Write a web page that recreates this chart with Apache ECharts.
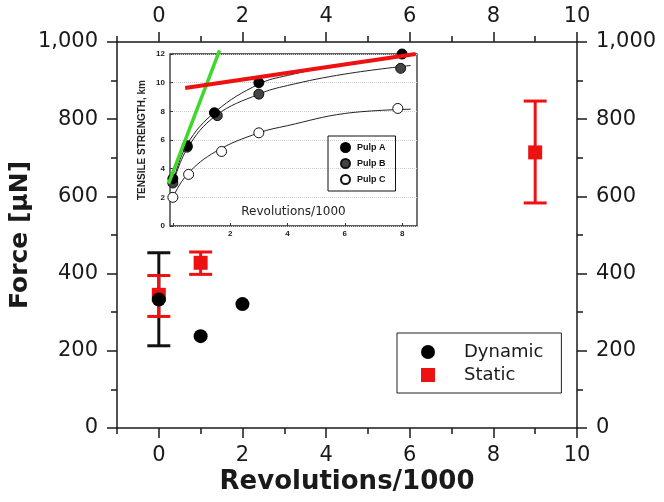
<!DOCTYPE html>
<html>
<head>
<meta charset="utf-8">
<script src="https://cdn.jsdelivr.net/npm/echarts@6.0.0/dist/echarts.min.js"></script>
<style>
  html, body { margin: 0; padding: 0; background: #fff; }
  #main { width: 664px; height: 502px; }
</style>
</head>
<body>
<div id="main"></div>
<script>
// main chart: force vs revolutions
const xTicks = [0, 2, 4, 6, 8, 10]
const xMinorTicks = [-1, 1, 3, 5, 7, 9]

const dynamicX = [0, 1, 2]
const dynamicY = [333, 238, 321]
const dynamicErrX = [0]
const dynamicErrLow = [213]
const dynamicErrHigh = [454]

const staticX = [0, 1, 9]
const staticY = [345, 428, 714]
const staticErrLow = [289, 398, 583]
const staticErrHigh = [395, 456, 847]

// inset: tensile strength vs revolutions
const insetXTicks = [0, 2, 4, 6, 8]
const insetXLabels = [2, 4, 6, 8]
const pulpAX = [0, 0.5, 1.45, 3, 8]
const pulpA = [3.3, 5.6, 7.9, 10.0, 12.0]
const pulpBX = [0, 0.5, 1.55, 3, 7.95]
const pulpB = [3.0, 5.5, 7.7, 9.2, 11.0]
const pulpCX = [0, 0.55, 1.7, 3, 7.85]
const pulpC = [2.0, 3.6, 5.2, 6.5, 8.2]

const fitX = [0, 0.5, 1.5, 3, 4, 6, 8.3]
const fitA = [3.0, 5.7, 8.0, 9.9, 10.5, 11.3, 11.9]
const fitB = [2.9, 5.4, 7.7, 9.2, 9.8, 10.6, 11.2]
const fitC = [2.0, 3.6, 5.2, 6.5, 7.0, 7.85, 8.15]

const greenLineX = [-0.15, 1.63]
const greenLineY = [2.95, 12.25]
const redLineX = [0.43, 8.47]
const redLineY = [9.63, 12.0]

const zip = (xs, ys) => xs.map((x, i) => [x, ys[i]])
const ink = '#1a1a1a'
const red = '#ee1111'
const font = 'DejaVu Sans'

const errorBar = (color) => (params, api) => {
    const x = api.value(0)
    const top = api.coord([x, api.value(2)])
    const bot = api.coord([x, api.value(1)])
    const hw = 11.5
    const style = {stroke: color, lineWidth: 3}
    return {
        type: 'group',
        children: [
            {type: 'line', shape: {x1: top[0], y1: top[1], x2: bot[0], y2: bot[1]}, style},
            {type: 'line', shape: {x1: top[0] - hw, y1: top[1], x2: top[0] + hw, y2: top[1]}, style},
            {type: 'line', shape: {x1: bot[0] - hw, y1: bot[1], x2: bot[0] + hw, y2: bot[1]}, style}
        ]
    }
}

const fmtThousands = v => String(v).replace(/\B(?=(\d{3})+(?!\d))/g, ',')

const axisLine = {show: true, onZero: false, lineStyle: {color: ink, width: 1.5}}
const tickLabel = {fontFamily: font, fontSize: 21, color: ink, margin: 17}

const myChart = echarts.init(document.getElementById('main'))

const option = {
    backgroundColor: '#fff',
    animation: false,
    grid: [
        {left: 117, right: 87, top: 42, bottom: 74, containLabel: false, outerBoundsMode: 'none'},
        {left: 170, top: 54, width: 247, height: 172, containLabel: false, outerBoundsMode: 'none',
            show: true, borderColor: '#2a2a2a', borderWidth: 1.3, backgroundColor: '#fff'}
    ],
    xAxis: [
        {
            gridIndex: 0, type: 'value', position: 'bottom', min: -1, max: 10,
            name: 'Revolutions/1000', nameLocation: 'middle', nameGap: 41, nameMoveOverlap: false,
            nameTextStyle: {fontFamily: font, fontSize: 26, fontWeight: 'bold', color: ink},
            axisLine: axisLine,
            axisTick: {show: true, length: 10, lineStyle: {color: ink, width: 1.5}, customValues: xTicks},
            axisLabel: Object.assign({}, tickLabel, {customValues: xTicks}),
            splitLine: {show: false}
        },
        {
            gridIndex: 0, type: 'value', position: 'bottom', min: -1, max: 10,
            axisLine: {show: false, onZero: false},
            axisTick: {show: true, length: 6, lineStyle: {color: ink, width: 1.5}, customValues: xMinorTicks},
            axisLabel: {show: false},
            splitLine: {show: false}
        },
        {
            gridIndex: 0, type: 'value', position: 'top', min: -1, max: 10,
            axisLine: axisLine,
            axisTick: {show: true, length: 10, lineStyle: {color: ink, width: 1.5}, customValues: xTicks},
            axisLabel: Object.assign({}, tickLabel, {customValues: xTicks, margin: 15}),
            splitLine: {show: false}
        },
        {
            gridIndex: 0, type: 'value', position: 'top', min: -1, max: 10,
            axisLine: {show: false, onZero: false},
            axisTick: {show: true, length: 6, lineStyle: {color: ink, width: 1.5}, customValues: xMinorTicks},
            axisLabel: {show: false},
            splitLine: {show: false}
        },
        {
            gridIndex: 1, type: 'value', min: -0.1, max: 8.52,
            name: 'Revolutions/1000', nameLocation: 'middle', nameGap: -20, nameMoveOverlap: false,
            nameTextStyle: {fontFamily: font, fontSize: 12, color: '#222'},
            axisLine: {show: false, onZero: false},
            axisTick: {show: true, inside: true, length: 3, lineStyle: {color: '#333'}, customValues: insetXTicks},
            axisLabel: {customValues: insetXLabels, fontFamily: 'Liberation Sans', fontWeight: 'bold', fontSize: 8, color: '#222', margin: 4},
            splitLine: {show: false}
        }
    ],
    yAxis: [
        {
            gridIndex: 0, type: 'value', position: 'left', min: 0, max: 1000, interval: 200,
            name: 'Force [µN]', nameLocation: 'middle', nameGap: 84, nameMoveOverlap: false,
            nameTextStyle: {fontFamily: font, fontSize: 25, fontWeight: 'bold', color: ink},
            axisLine: axisLine,
            axisTick: {show: true, length: 10, lineStyle: {color: ink, width: 1.5}},
            minorTick: {show: true, splitNumber: 2, length: 6, lineStyle: {color: ink, width: 1.5}},
            axisLabel: Object.assign({}, tickLabel, {formatter: fmtThousands, margin: 19}),
            splitLine: {show: false}
        },
        {
            gridIndex: 0, type: 'value', position: 'right', min: 0, max: 1000, interval: 200,
            axisLine: axisLine,
            axisTick: {show: true, length: 10, lineStyle: {color: ink, width: 1.5}},
            minorTick: {show: true, splitNumber: 2, length: 6, lineStyle: {color: ink, width: 1.5}},
            axisLabel: Object.assign({}, tickLabel, {formatter: fmtThousands, margin: 19}),
            splitLine: {show: false}
        },
        {
            gridIndex: 1, type: 'value', min: 0, max: 12, interval: 2,
            name: 'TENSILE STRENGTH, km', nameLocation: 'middle', nameGap: 23, nameMoveOverlap: false,
            nameTextStyle: {fontFamily: 'Liberation Sans', fontSize: 10, fontWeight: 'bold', color: '#222'},
            axisLine: {show: false, onZero: false},
            axisTick: {show: true, inside: true, length: 3, lineStyle: {color: '#333'}},
            axisLabel: {fontFamily: 'Liberation Sans', fontWeight: 'bold', fontSize: 8, color: '#222', margin: 5},
            splitLine: {show: true, lineStyle: {color: '#d0d0d0', type: 'dotted'}}
        }
    ],
    legend: [
        {
            data: ['Dynamic', 'Static'], orient: 'vertical', left: 397, top: 333,
            padding: [10, 18, 9, 24], itemGap: 5, itemWidth: 14, itemHeight: 14,
            borderColor: '#222', borderWidth: 1,
            textStyle: {fontFamily: font, fontSize: 18, color: ink, padding: [0, 0, 0, 24]}
        },
        {
            data: ['Pulp A', 'Pulp B', 'Pulp C'], orient: 'vertical', left: 328, top: 136,
            padding: [6, 10, 6, 12], itemGap: 5, itemWidth: 9, itemHeight: 9,
            borderColor: '#111', borderWidth: 1,
            textStyle: {fontFamily: 'Liberation Sans', fontSize: 9, fontWeight: 'bold', color: '#111', padding: [0, 0, 0, 2]}
        }
    ],
    series: [
        {
            name: 'Dynamic error', type: 'custom', xAxisIndex: 0, yAxisIndex: 0, z: 2,
            renderItem: errorBar('#111'),
            encode: {x: 0, y: [1, 2]},
            data: dynamicErrX.map((x, i) => [x, dynamicErrLow[i], dynamicErrHigh[i]])
        },
        {
            name: 'Static error', type: 'custom', xAxisIndex: 0, yAxisIndex: 0, z: 3,
            renderItem: errorBar(red),
            encode: {x: 0, y: [1, 2]},
            data: staticX.map((x, i) => [x, staticErrLow[i], staticErrHigh[i]])
        },
        {
            name: 'Static', type: 'scatter', xAxisIndex: 0, yAxisIndex: 0, z: 4,
            symbol: 'rect', symbolSize: 14,
            itemStyle: {color: red, opacity: 1},
            data: zip(staticX, staticY)
        },
        {
            name: 'Dynamic', type: 'scatter', xAxisIndex: 0, yAxisIndex: 0, z: 5,
            symbol: 'circle', symbolSize: 14,
            itemStyle: {color: '#000', opacity: 1},
            data: zip(dynamicX, dynamicY)
        },
        // inset
        {name: 'fit A', type: 'line', xAxisIndex: 4, yAxisIndex: 2, smooth: 0.4, showSymbol: false, z: 3,
            lineStyle: {color: '#222', width: 1}, data: zip(fitX, fitA)},
        {name: 'fit B', type: 'line', xAxisIndex: 4, yAxisIndex: 2, smooth: 0.4, showSymbol: false, z: 3,
            lineStyle: {color: '#222', width: 1}, data: zip(fitX, fitB)},
        {name: 'fit C', type: 'line', xAxisIndex: 4, yAxisIndex: 2, smooth: 0.4, showSymbol: false, z: 3,
            lineStyle: {color: '#222', width: 1}, data: zip(fitX, fitC)},
        {name: 'Pulp C', type: 'scatter', xAxisIndex: 4, yAxisIndex: 2, symbolSize: 10, z: 4,
            itemStyle: {color: '#fff', borderColor: '#111', borderWidth: 1, opacity: 1}, data: zip(pulpCX, pulpC)},
        {name: 'Pulp B', type: 'scatter', xAxisIndex: 4, yAxisIndex: 2, symbolSize: 10, z: 4,
            itemStyle: {color: '#444', borderColor: '#111', borderWidth: 1, opacity: 1}, data: zip(pulpBX, pulpB)},
        {name: 'Pulp A', type: 'scatter', xAxisIndex: 4, yAxisIndex: 2, symbolSize: 10, z: 4,
            itemStyle: {color: '#000', borderColor: '#000', borderWidth: 1, opacity: 1}, data: zip(pulpAX, pulpA)},
        {name: 'green', type: 'line', xAxisIndex: 4, yAxisIndex: 2, showSymbol: false, clip: false, z: 6,
            lineStyle: {color: '#3fd82a', width: 3.5}, data: zip(greenLineX, greenLineY)},
        {name: 'red', type: 'line', xAxisIndex: 4, yAxisIndex: 2, showSymbol: false, clip: false, z: 6,
            lineStyle: {color: red, width: 4}, data: zip(redLineX, redLineY)}
    ]
}
myChart.setOption(option)
</script>
</body>
</html>
